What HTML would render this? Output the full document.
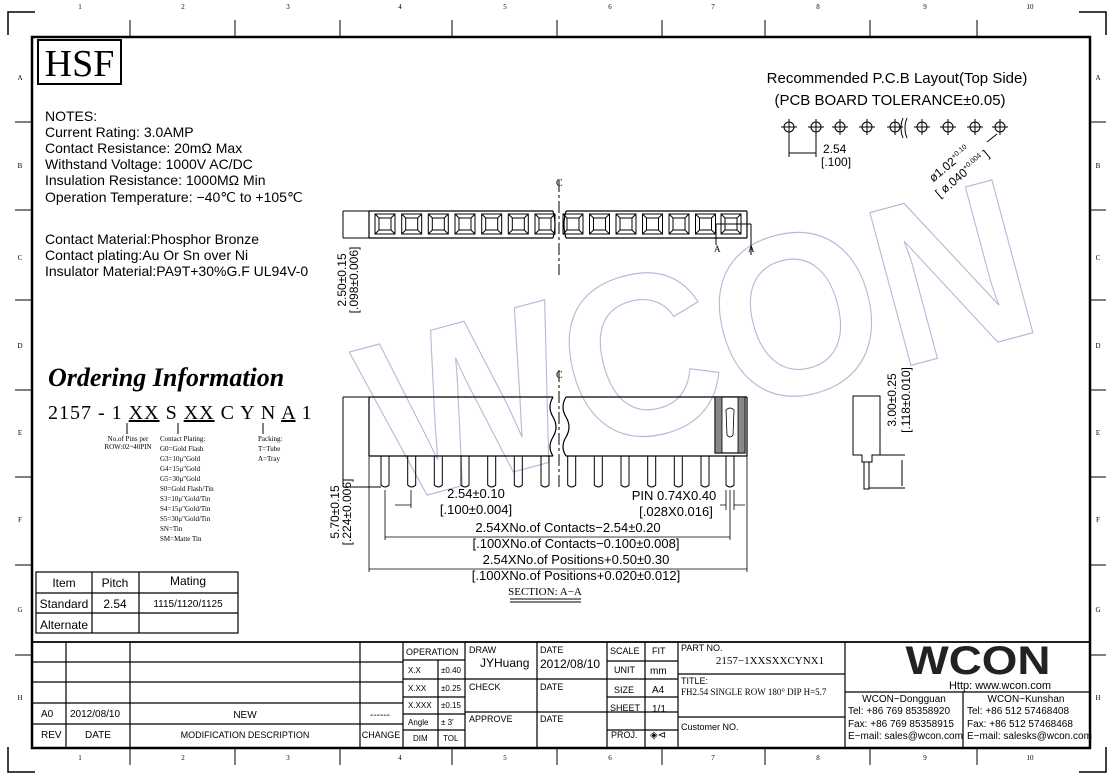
<!DOCTYPE html>
<html><head><meta charset="utf-8"><style>
html,body{margin:0;padding:0;background:#fff}
svg{display:block}
.s{font-family:"Liberation Sans",sans-serif;fill:#000}
.r{font-family:"Liberation Serif",serif;fill:#000}
.m{font-family:"Liberation Mono",monospace;fill:#000}
</style></head><body>
<svg width="1114" height="782" viewBox="0 0 1114 782" xmlns="http://www.w3.org/2000/svg">
<g stroke="#000" fill="none">
<path d="M8 35 V12 H35" stroke-width="1.5"/>
<path d="M1106 747 V772 H1079" stroke-width="1.5"/>
<path d="M8 747 V772 H35" stroke-width="1.5"/>
<path d="M1106 35 V12 H1079" stroke-width="1.5"/>
<rect x="32" y="37" width="1058" height="711" stroke-width="2.5"/>
<g stroke-width="1">
<path d="M130 20V37M235 20V37M340 20V37M452 20V37M557 20V37M662 20V37M765 20V37M870 20V37M977 20V37"/>
<path d="M130 748V765M235 748V765M340 748V765M452 748V765M557 748V765M662 748V765M765 748V765M870 748V765M977 748V765"/>
<path d="M15 122H32M15 210H32M15 300H32M15 390H32M15 477H32M15 565H32M15 655H32"/>
<path d="M1090 122H1106M1090 210H1106M1090 300H1106M1090 390H1106M1090 477H1106M1090 565H1106M1090 655H1106"/>
</g>
</g>
<g class="r" font-size="7" text-anchor="middle">
<text x="80" y="9">1</text><text x="183" y="9">2</text><text x="288" y="9">3</text><text x="400" y="9">4</text><text x="505" y="9">5</text><text x="610" y="9">6</text><text x="713" y="9">7</text><text x="818" y="9">8</text><text x="925" y="9">9</text><text x="1030" y="9">10</text>
<text x="80" y="760">1</text><text x="183" y="760">2</text><text x="288" y="760">3</text><text x="400" y="760">4</text><text x="505" y="760">5</text><text x="610" y="760">6</text><text x="713" y="760">7</text><text x="818" y="760">8</text><text x="925" y="760">9</text><text x="1030" y="760">10</text>
<text x="20" y="80">A</text><text x="20" y="168">B</text><text x="20" y="260">C</text><text x="20" y="348">D</text><text x="20" y="435">E</text><text x="20" y="522">F</text><text x="20" y="612">G</text><text x="20" y="700">H</text>
<text x="1098" y="80">A</text><text x="1098" y="168">B</text><text x="1098" y="260">C</text><text x="1098" y="348">D</text><text x="1098" y="435">E</text><text x="1098" y="522">F</text><text x="1098" y="612">G</text><text x="1098" y="700">H</text>
</g>

<text x="390" y="505" transform="rotate(-15 390 505)" font-family="Liberation Sans,sans-serif" font-weight="bold" font-size="230" fill="none" stroke="#b8b8d8" stroke-width="1.2" textLength="680" lengthAdjust="spacingAndGlyphs">WCON</text>

<rect x="38" y="40" width="83" height="44" fill="none" stroke="#000" stroke-width="2"/>
<text x="79.5" y="76" class="r" font-size="38" text-anchor="middle">HSF</text>

<g class="s" font-size="14">
<text x="45" y="121">NOTES:</text>
<text x="45" y="137">Current Rating: 3.0AMP</text>
<text x="45" y="153">Contact Resistance: 20mΩ Max</text>
<text x="45" y="169">Withstand Voltage: 1000V AC/DC</text>
<text x="45" y="185">Insulation Resistance: 1000MΩ Min</text>
<text x="45" y="202">Operation Temperature: −40℃ to +105℃</text>
<text x="45" y="244">Contact Material:Phosphor Bronze</text>
<text x="45" y="260">Contact plating:Au Or Sn over Ni</text>
<text x="45" y="276">Insulator Material:PA9T+30%G.F UL94V-0</text>
</g>

<text x="48" y="386" class="r" font-size="26" font-style="italic" font-weight="bold">Ordering Information</text>
<text x="48" y="419" class="r" font-size="20" letter-spacing="1">2157 - 1 <tspan text-decoration="underline">XX</tspan> S <tspan text-decoration="underline">XX</tspan>  C Y N <tspan text-decoration="underline">A</tspan>  1</text>
<g stroke="#000"><path d="M127 423V434M178 423V434M263 423V434"/></g>
<g class="r" font-size="7">
<text x="128" y="441" text-anchor="middle">No.of Pins per</text>
<text x="128" y="449" text-anchor="middle">ROW:02~40PIN</text>
<text x="160" y="441">Contact Plating:</text>
<text x="160" y="451">G0=Gold Flash</text>
<text x="160" y="461">G3=10μ"Gold</text>
<text x="160" y="471">G4=15μ"Gold</text>
<text x="160" y="481">G5=30μ"Gold</text>
<text x="160" y="491">S0=Gold Flash/Tin</text>
<text x="160" y="501">S3=10μ"Gold/Tin</text>
<text x="160" y="511">S4=15μ"Gold/Tin</text>
<text x="160" y="521">S5=30μ"Gold/Tin</text>
<text x="160" y="531">SN=Tin</text>
<text x="160" y="541">SM=Matte Tin</text>
<text x="258" y="441">Packing:</text>
<text x="258" y="451">T=Tube</text>
<text x="258" y="461">A=Tray</text>
</g>

<g stroke="#000" fill="none" stroke-width="1.2">
<rect x="36" y="572" width="202" height="61"/>
<path d="M36 593H238M36 613H238M92 572V633M139 572V633"/>
</g>
<g class="s" font-size="12" text-anchor="middle">
<text x="64" y="587">Item</text><text x="115" y="587">Pitch</text><text x="188" y="585">Mating</text>
<text x="64" y="608">Standard</text><text x="115" y="608">2.54</text><text x="188" y="607" font-size="10">1115/1120/1125</text>
<text x="64" y="629">Alternate</text>
</g>

<g class="s" font-size="15" text-anchor="middle">
<text x="897" y="83">Recommended P.C.B Layout(Top Side)</text>
<text x="890" y="105">(PCB BOARD TOLERANCE±0.05)</text>
</g>
<g stroke="#000" fill="none" stroke-width="1">
<circle cx="789" cy="127" r="5"/><circle cx="816" cy="127" r="5"/><circle cx="840" cy="127" r="5"/><circle cx="867" cy="127" r="5"/><circle cx="895" cy="127" r="5"/><circle cx="922" cy="127" r="5"/><circle cx="948" cy="127" r="5"/><circle cx="975" cy="127" r="5"/><circle cx="1000" cy="127" r="5"/>
<path d="M781 127h16M789 119v16M808 127h16M816 119v16M832 127h16M840 119v16M859 127h16M867 119v16M887 127h16M895 119v16M914 127h16M922 119v16M940 127h16M948 119v16M967 127h16M975 119v16M992 127h16M1000 119v16"/>
<path d="M903 118q-4 10 0 20M907 118q-4 10 0 20"/>
<path d="M789 132V157M816 132V157M789 153H816"/>
<path d="M987 142l10 -8"/>
</g>
<text x="823" y="153" class="s" font-size="12">2.54</text>
<text x="821" y="166" class="s" font-size="12">[.100]</text>
<g transform="rotate(-40 960 160)">
<text x="925" y="160" class="s" font-size="12">ø1.02<tspan font-size="7" dy="-5">+0.10</tspan></text>
<text x="920" y="176" class="s" font-size="12">[ ø.040<tspan font-size="7" dy="-5">+0.004</tspan><tspan dy="5"> ]</tspan></text>
</g>

<g stroke="#000" fill="none" stroke-width="1.2">
<path d="M369 211H553M369 238H553M369 211V238M566 211H747M566 238H747M747 211V238"/>
<path d="M553 211q4 14 0 27M566 211q-4 14 0 27"/>
<path d="M559 180V275" stroke-dasharray="12 3 3 3" stroke-width="1"/>
<g stroke-width="1">
<path d="M375 214h20v20h-20zM379 218h12v12h-12zM375 214l4 4M395 214l-4 4M375 234l4 -4M395 234l-4 -4" id="c"/>
<use href="#c" x="26.7"/><use href="#c" x="53.3"/><use href="#c" x="80"/><use href="#c" x="106.7"/><use href="#c" x="133.3"/><use href="#c" x="160"/>
<use href="#c" x="188"/><use href="#c" x="214.5"/><use href="#c" x="241"/><use href="#c" x="267.5"/><use href="#c" x="294"/><use href="#c" x="320.5"/><use href="#c" x="346"/>
<path d="M716 224H751M716 224V245M751 224V255"/>
<path d="M343 211V238M343 211H369M343 238H369"/>
</g></g>
<text x="556" y="186" class="r" font-size="10">C</text>
<text x="714" y="252" class="r" font-size="9">A</text><text x="748" y="252" class="r" font-size="9">A</text>

<g stroke="#000" fill="none" stroke-width="1.2">
<path d="M369 397H553M369 456H553M369 397V456M566 397H747M566 456H747M747 397V456"/>
<path d="M553 397q-6 10 0 20q6 10 0 20q-6 10 0 19M566 397q-6 10 0 20q6 10 0 20q-6 10 0 19"/>
<path d="M559 370V490" stroke-dasharray="12 3 3 3" stroke-width="1"/>
<g stroke-width="1">
<path d="M381 456V485q4 4 8 0V456" id="p"/>
<use href="#p" x="26.7"/><use href="#p" x="53.3"/><use href="#p" x="80"/><use href="#p" x="106.7"/><use href="#p" x="133.3"/><use href="#p" x="160"/>
<use href="#p" x="186.7"/><use href="#p" x="213.3"/><use href="#p" x="240"/><use href="#p" x="266.7"/><use href="#p" x="293.3"/><use href="#p" x="320"/>
<path d="M726 456V485q4 4 8 0V456"/>
</g>
<rect x="715" y="397" width="30" height="56" fill="#fff"/>
<rect x="715" y="397" width="7" height="56" fill="#888" stroke-width="0.8"/>
<rect x="738" y="397" width="7" height="56" fill="#888" stroke-width="0.8"/>
<path d="M726 410q4 -4 8 0l-1 25q-3 4 -6 0z" stroke-width="0.8"/>
<path d="M343 397V487M343 397H369M343 487H381" stroke-width="1"/>
<path d="M385 490V540M411 490V508M730 490V540M369 456V572M747 456V572M726 490V510M734 490V510" stroke-width="0.8"/>
<path d="M395 505H411M720 505H726M734 505H745M385 537H730M369 569H747" stroke-width="0.8"/>
</g>
<g class="s" font-size="13" text-anchor="middle">
<text x="476" y="498">2.54±0.10</text>
<text x="476" y="514">[.100±0.004]</text>
<text x="674" y="500">PIN 0.74X0.40</text>
<text x="676" y="516">[.028X0.016]</text>
<text x="568" y="532">2.54XNo.of Contacts−2.54±0.20</text>
<text x="576" y="548">[.100XNo.of Contacts−0.100±0.008]</text>
<text x="576" y="564">2.54XNo.of Positions+0.50±0.30</text>
<text x="576" y="580">[.100XNo.of Positions+0.020±0.012]</text>
</g>
<text x="545" y="595" class="r" font-size="11" text-anchor="middle">SECTION:  A−A</text>
<path d="M510 599H581M510 602H581" stroke="#000"/>
<text x="556" y="378" class="r" font-size="10">C</text>
<g class="s" font-size="12" text-anchor="middle">
<text transform="translate(346 280) rotate(-90)">2.50±0.15</text>
<text transform="translate(358 280) rotate(-90)">[.098±0.006]</text>
<text transform="translate(339 512) rotate(-90)">5.70±0.15</text>
<text transform="translate(351 512) rotate(-90)">[.224±0.006]</text>
<text transform="translate(896 400) rotate(-90)">3.00±0.25</text>
<text transform="translate(910 400) rotate(-90)">[.118±0.010]</text>
</g>
<g stroke="#000" fill="none" stroke-width="1">
<path d="M853 396H880V455H872V462H862V455H853Z"/>
<rect x="864" y="462" width="5" height="27"/>
<path d="M880 455H905M869 488H905M902 460V486"/>
</g>

<g stroke="#000" fill="none" stroke-width="1.2">
<path d="M32 642H1090" stroke-width="1.8"/>
<path d="M32 662H403M32 682H403M32 703H403M32 724H403"/>
<path d="M66 642V748M130 642V748M360 642V748M403 642V748M678 642V748M845 642V748"/>
<path d="M403 660H465M403 679H465M403 697H465M403 714H465M403 730H465M438 660V748M465 642V748"/>
<path d="M537 642V748M465 679H607M465 712H607M607 642V748M645 642V748M607 661H678M607 679H678M607 697H678M607 712H678M607 730H678"/>
<path d="M678 674H845M678 717H845M845 692H1090M963 692V748"/>
</g>
<g class="s" font-size="10">
<text x="41" y="717">A0</text><text x="70" y="717">2012/08/10</text><text x="245" y="718" text-anchor="middle">NEW</text><text x="370" y="718">------</text>
<text x="41" y="738">REV</text><text x="98" y="738" text-anchor="middle">DATE</text><text x="245" y="738" text-anchor="middle" font-size="9">MODIFICATION DESCRIPTION</text><text x="381" y="738" text-anchor="middle" font-size="9">CHANGE</text>
<text x="406" y="655" font-size="9">OPERATION</text>
<text x="408" y="673" font-size="8">X.X</text><text x="441" y="673" font-size="8">±0.40</text>
<text x="408" y="691" font-size="8">X.XX</text><text x="441" y="691" font-size="8">±0.25</text>
<text x="408" y="708" font-size="8">X.XXX</text><text x="441" y="708" font-size="8">±0.15</text>
<text x="408" y="725" font-size="8">Angle</text><text x="441" y="725" font-size="8">± 3'</text>
<text x="413" y="741" font-size="8">DIM</text><text x="443" y="741" font-size="8">TOL</text>
<text x="469" y="653" font-size="9">DRAW</text><text x="480" y="667" font-size="12">JYHuang</text>
<text x="469" y="690" font-size="9">CHECK</text><text x="469" y="722" font-size="9">APPROVE</text>
<text x="540" y="653" font-size="9">DATE</text><text x="540" y="668" font-size="12">2012/08/10</text>
<text x="540" y="690" font-size="9">DATE</text><text x="540" y="722" font-size="9">DATE</text>
<text x="610" y="654" font-size="9">SCALE</text><text x="652" y="654" font-size="9">FIT</text>
<text x="614" y="673" font-size="9">UNIT</text><text x="650" y="674" font-size="10">mm</text>
<text x="614" y="693" font-size="9">SIZE</text><text x="652" y="693" font-size="10">A4</text>
<text x="610" y="711" font-size="9">SHEET</text><text x="652" y="712" font-size="10">1/1</text>
<text x="611" y="738" font-size="9">PROJ.</text><text x="650" y="738" font-size="10">◈⊲</text>
<text x="681" y="651" font-size="9">PART NO.</text>
<text x="681" y="684" font-size="9">TITLE:</text>
<text x="681" y="730" font-size="9">Customer NO.</text>
<text x="1000" y="689" text-anchor="middle" font-size="11">Http:  www.wcon.com</text>
<text x="904" y="702" text-anchor="middle" font-size="10">WCON−Dongguan</text>
<text x="848" y="714" font-size="10">Tel: +86 769 85358920</text>
<text x="848" y="727" font-size="10">Fax: +86 769 85358915</text>
<text x="848" y="739" font-size="10">E−mail: sales@wcon.com</text>
<text x="1026" y="702" text-anchor="middle" font-size="10">WCON−Kunshan</text>
<text x="967" y="714" font-size="10">Tel: +86 512 57468408</text>
<text x="967" y="727" font-size="10">Fax: +86 512 57468468</text>
<text x="967" y="739" font-size="10">E−mail: salesks@wcon.com</text>
</g>
<text x="770" y="664" class="r" font-size="11" text-anchor="middle">2157−1XXSXXCYNX1</text>
<text x="681" y="695" class="r" font-size="9">FH2.54 SINGLE ROW 180° DIP H=5.7</text>
<text x="978" y="674" font-family="Liberation Sans,sans-serif" font-weight="bold" font-size="40" text-anchor="middle" fill="#222" textLength="145" lengthAdjust="spacingAndGlyphs">WCON</text>
</svg>
</body></html>
